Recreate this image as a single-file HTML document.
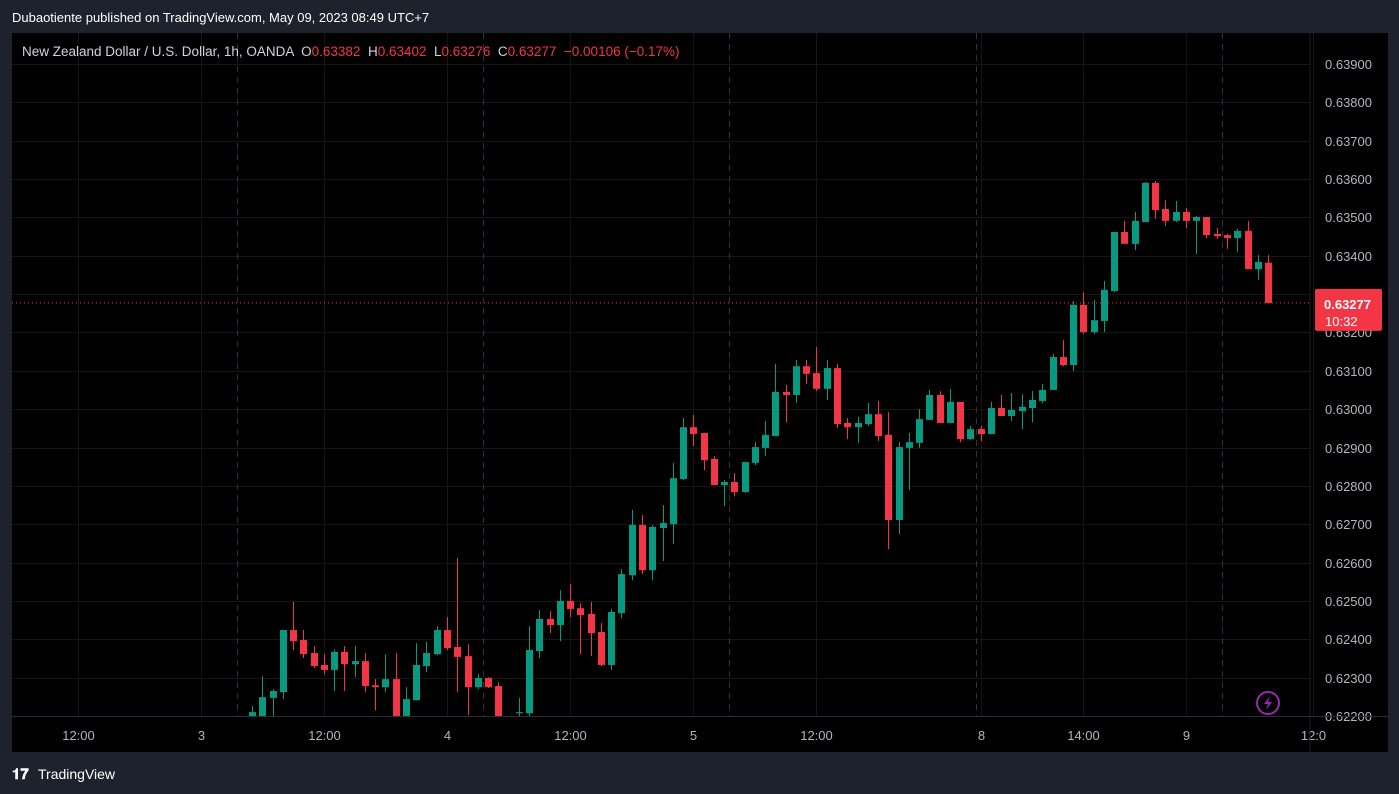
<!DOCTYPE html>
<html><head><meta charset="utf-8"><style>
html,body{margin:0;padding:0;background:#1e222d;width:1399px;height:794px;overflow:hidden;font-family:"Liberation Sans",sans-serif}
svg{display:block}
.pre{white-space:pre}
</style></head><body>
<svg id="chart" width="1399" height="794" xmlns="http://www.w3.org/2000/svg">
<rect x="0" y="0" width="1399" height="794" fill="#1e222d"/>
<text x="12" y="22" fill="#ffffff" font-size="13">Dubaotiente published on TradingView.com, May 09, 2023 08:49 UTC+7</text>
<rect x="12" y="33" width="1376" height="719" fill="#000000"/>
<g id="grid"></g>
<g id="candles"></g>
<g id="overlay"></g>
<line x1="1310" y1="33" x2="1310" y2="752" stroke="#1a1d25" stroke-width="1"/>
<line x1="12" y1="716.5" x2="1388" y2="716.5" stroke="#2a2e39" stroke-width="1"/>
<text class="pre" x="22" y="56" font-size="13.5"><tspan fill="#d1d4dc">New Zealand Dollar / U.S. Dollar, 1h, OANDA  O</tspan><tspan fill="#f23645">0.63382</tspan><tspan fill="#d1d4dc">  H</tspan><tspan fill="#f23645">0.63402</tspan><tspan fill="#d1d4dc">  L</tspan><tspan fill="#f23645">0.63276</tspan><tspan fill="#d1d4dc">  C</tspan><tspan fill="#f23645">0.63277  −0.00106 (−0.17%)</tspan></text>
<g><circle cx="1268" cy="703" r="11" fill="none" stroke="#9c27b0" stroke-width="2"/><path d="M1270 696 L1264 704 L1268 704 L1266 710 L1272 702 L1268 702 Z" fill="#9c27b0"/></g>
<g><text x="12" y="779" fill="#ffffff" font-size="15" font-weight="bold">𝟏𝟕</text><text x="38" y="779" fill="#ffffff" font-size="14">TradingView</text></g>
</svg>
<script>
const opens=[0.62189,0.62189,0.62247,0.62262,0.62424,0.62398,0.62364,0.62333,0.62320,0.62367,0.62335,0.62343,0.62280,0.62275,0.62296,0.62200,0.62241,0.62330,0.62361,0.62424,0.62380,0.62356,0.62275,0.62299,0.62278,0.62176,0.62207,0.62207,0.62369,0.62453,0.62437,0.62500,0.62481,0.62466,0.62419,0.62333,0.62468,0.62567,0.62698,0.62580,0.62690,0.62700,0.62818,0.62953,0.62938,0.62870,0.62802,0.62810,0.62784,0.62860,0.62899,0.62930,0.63045,0.63037,0.63112,0.63094,0.63053,0.63107,0.62964,0.62953,0.62961,0.62987,0.62933,0.62711,0.62899,0.62912,0.62972,0.63037,0.62964,0.63019,0.62922,0.62948,0.62935,0.63003,0.62982,0.62995,0.63003,0.63021,0.63050,0.63136,0.63115,0.63272,0.63201,0.63230,0.63308,0.63462,0.63431,0.63488,0.63590,0.63522,0.63491,0.63514,0.63491,0.63501,0.63457,0.63454,0.63446,0.63465,0.63365,0.63382];
const highs=[0.62226,0.62304,0.62270,0.62424,0.62497,0.62424,0.62382,0.62361,0.62374,0.62382,0.62382,0.62364,0.62296,0.62361,0.62364,0.62275,0.62390,0.62393,0.62434,0.62458,0.62612,0.62387,0.62309,0.62301,0.62288,0.62180,0.62247,0.62434,0.62476,0.62473,0.62528,0.62544,0.62494,0.62497,0.62442,0.62479,0.62583,0.62737,0.62724,0.62698,0.62750,0.62860,0.62977,0.62985,0.62938,0.62878,0.62815,0.62833,0.62862,0.62914,0.62969,0.63118,0.63063,0.63128,0.63128,0.63162,0.63128,0.63118,0.62977,0.62980,0.63016,0.63021,0.62992,0.62914,0.62938,0.63000,0.63050,0.63047,0.63053,0.63019,0.62956,0.62956,0.63019,0.63037,0.63042,0.63039,0.63047,0.63066,0.63144,0.63180,0.63282,0.63305,0.63285,0.63334,0.63462,0.63491,0.63514,0.63592,0.63595,0.63545,0.63543,0.63524,0.63504,0.63501,0.63472,0.63457,0.63470,0.63491,0.63402,0.63402];
const lows=[0.62184,0.62184,0.62194,0.62244,0.62372,0.62351,0.62325,0.62309,0.62265,0.62265,0.62301,0.62262,0.62215,0.62262,0.62194,0.62194,0.62241,0.62314,0.62359,0.62372,0.62262,0.62202,0.62270,0.62273,0.62184,0.62158,0.62184,0.62194,0.62351,0.62416,0.62395,0.62458,0.62361,0.62356,0.62330,0.62320,0.62455,0.62554,0.62570,0.62554,0.62604,0.62648,0.62815,0.62904,0.62841,0.62802,0.62747,0.62773,0.62781,0.62854,0.62878,0.62930,0.62966,0.63016,0.63066,0.63047,0.63024,0.62951,0.62922,0.62912,0.62956,0.62917,0.62635,0.62674,0.62789,0.62899,0.62972,0.62964,0.62964,0.62914,0.62920,0.62917,0.62935,0.62982,0.62969,0.62948,0.62966,0.63016,0.63050,0.63112,0.63099,0.63196,0.63196,0.63201,0.63305,0.63431,0.63415,0.63488,0.63496,0.63478,0.63488,0.63472,0.63405,0.63446,0.63444,0.63418,0.63410,0.63365,0.63337,0.63276];
const closes=[0.62210,0.62249,0.62265,0.62424,0.62395,0.62361,0.62330,0.62320,0.62367,0.62335,0.62343,0.62278,0.62275,0.62296,0.62200,0.62244,0.62333,0.62364,0.62424,0.62377,0.62354,0.62275,0.62299,0.62275,0.62189,0.62163,0.62210,0.62372,0.62453,0.62437,0.62500,0.62479,0.62463,0.62416,0.62333,0.62471,0.62570,0.62698,0.62580,0.62693,0.62703,0.62820,0.62953,0.62935,0.62867,0.62802,0.62810,0.62784,0.62862,0.62901,0.62933,0.63045,0.63037,0.63112,0.63092,0.63053,0.63107,0.62961,0.62953,0.62964,0.62987,0.62930,0.62711,0.62901,0.62914,0.62974,0.63037,0.62964,0.63019,0.62922,0.62948,0.62935,0.63003,0.62982,0.62998,0.63006,0.63024,0.63050,0.63136,0.63115,0.63272,0.63201,0.63232,0.63311,0.63462,0.63431,0.63491,0.63590,0.63519,0.63491,0.63514,0.63491,0.63501,0.63454,0.63451,0.63446,0.63465,0.63365,0.63384,0.63277];
const priceTicks=[0.622,0.623,0.624,0.625,0.626,0.627,0.628,0.629,0.630,0.631,0.632,0.633,0.634,0.635,0.636,0.637,0.638,0.639];
const timeLabels=["12:00","3","12:00","4","12:00","5","12:00","8","14:00","9","12:0"];
const timeIdx=[-17,-5,7,19,31,43,55,71,81,91,103.4];
const sessionIdx=[-1.5,22.5,46.5,70.5,94.5];
const lastPrice=0.63277;

const NS="http://www.w3.org/2000/svg";
function yOf(p){return 64+(0.639-p)/0.001*38.35;}
function xOf(i){return 252+i*10.263;}
function mk(tag,attrs,parent){const e=document.createElementNS(NS,tag);for(const k in attrs)e.setAttribute(k,attrs[k]);parent.appendChild(e);return e;}
const grid=document.getElementById('grid'),cg=document.getElementById('candles'),ov=document.getElementById('overlay');
priceTicks.forEach(p=>{const y=Math.round(yOf(p))+0.5;
 const l=mk('line',{x1:12,x2:1310,y1:y,y2:y,stroke:'#161616','stroke-width':1},grid);
 
 
 const t=mk('text',{x:1325,y:y+4.5,fill:'#b2b5be','font-size':13},grid);t.textContent=p.toFixed(5);
 
 
});
timeIdx.forEach((i,k)=>{const x=Math.round(xOf(i))+0.5;
 const l=mk('line',{x1:x,x2:x,y1:33,y2:716,stroke:'#161616','stroke-width':1},grid);
 
 
 const t=mk('text',{x:x,y:740,fill:'#b2b5be','font-size':13,'text-anchor':'middle'},grid);t.textContent=timeLabels[k];
 
 
});
sessionIdx.forEach(i=>{const x=Math.round(xOf(i))+0.5;
 const l=mk('line',{x1:x,x2:x,y1:33,y2:716,stroke:'#2a3447','stroke-width':1,'stroke-dasharray':'6,5'},grid);
 
 
});
const clip=mk('clipPath',{id:'pc'},cg);mk('rect',{x:12,y:33,width:1298,height:683},clip);
cg.setAttribute('clip-path','url(#pc)');
opens.forEach((o,i)=>{const c=closes[i],up=c>=o,col=up?'#089981':'#f23645',x=Math.round(xOf(i));
 const g=mk('g',{},cg);
 
 
 mk('line',{x1:x+0.5,x2:x+0.5,y1:yOf(highs[i]),y2:yOf(lows[i]),stroke:col,'stroke-width':1},g);
 const top=yOf(Math.max(o,c)),bot=yOf(Math.min(o,c));
 mk('rect',{x:x-3,y:top,width:7,height:Math.max(1,bot-top),fill:col},g);
});
const ly=yOf(lastPrice);
const dl=mk('line',{x1:12,x2:1310,y1:ly,y2:ly,stroke:'#f23645','stroke-width':1,'stroke-dasharray':'1,3'},ov);


const lb=mk('rect',{x:1315,y:ly-14,width:67,height:42,fill:'#f23645',rx:2},ov);


const lt=mk('text',{x:1324,y:ly+6,fill:'#ffffff','font-size':13,'font-weight':'bold'},ov);lt.textContent=lastPrice.toFixed(5);


const ct=mk('text',{x:1325,y:ly+23,fill:'#ffffff','font-size':13},ov);ct.textContent='10:32';


</script>
</body></html>
